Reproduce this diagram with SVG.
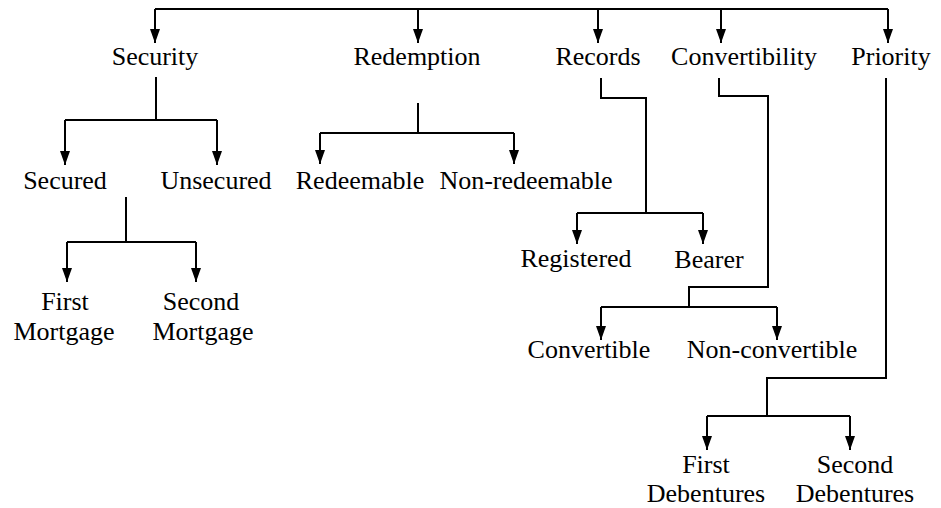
<svg xmlns="http://www.w3.org/2000/svg" width="941" height="508" viewBox="0 0 941 508">
<style>
text{font-family:'Liberation Serif','DejaVu Serif',serif;font-size:26px;fill:#000;text-anchor:middle}
.c{fill:none;stroke:#000;stroke-width:2}
.a{marker-end:url(#ah)}
</style>
<defs>
<marker id="ah" markerUnits="userSpaceOnUse" markerWidth="14" markerHeight="12" viewBox="0 0 14 12" refX="14" refY="6" orient="auto">
<path d="M0,1 L14,6 L0,11 Z" fill="#000"/>
</marker>
</defs>
<rect width="941" height="508" fill="#fff"/>
<g id="connectors">
<path class="c" d="M155,9 H888"/>
<path class="c a" d="M155,9 V43"/>
<path class="c a" d="M418,9 V43"/>
<path class="c a" d="M598,9 V43"/>
<path class="c a" d="M721,9 V43"/>
<path class="c a" d="M888,9 V43"/>
<path class="c" d="M156,77 V120 M65,120 H217"/>
<path class="c a" d="M65,120 V165"/>
<path class="c a" d="M217,120 V165"/>
<path class="c" d="M126,197 V242 M67,242 H196"/>
<path class="c a" d="M67,242 V282"/>
<path class="c a" d="M196,242 V282"/>
<path class="c" d="M418,103 V133 M320,133 H514"/>
<path class="c a" d="M320,133 V164"/>
<path class="c a" d="M514,133 V164"/>
<path class="c" d="M601,78 V98 H646 V213 M577,213 H703"/>
<path class="c a" d="M577,213 V244"/>
<path class="c a" d="M703,213 V244"/>
<path class="c" d="M719,78 V96 H768 V287 H689 V307 M601,307 H777"/>
<path class="c a" d="M601,307 V340"/>
<path class="c a" d="M777,307 V340"/>
<path class="c" d="M886,78 V378 H767 V416 M707,416 H850"/>
<path class="c a" d="M707,416 V450"/>
<path class="c a" d="M850,416 V450"/>
</g>
<g id="security"><text x="155" y="65">Security</text></g>
<g id="redemption"><text x="417" y="65">Redemption</text></g>
<g id="records"><text x="598" y="65">Records</text></g>
<g id="convertibility"><text x="744" y="65">Convertibility</text></g>
<g id="priority"><text x="891" y="65">Priority</text></g>
<g id="secured"><text x="65" y="189">Secured</text></g>
<g id="unsecured"><text x="216" y="189">Unsecured</text></g>
<g id="redeemable"><text x="360" y="189">Redeemable</text></g>
<g id="nonredeemable"><text x="526" y="189">Non-redeemable</text></g>
<g id="firstmortgage"><text x="65" y="310">First</text><text x="64" y="340">Mortgage</text></g>
<g id="secondmortgage"><text x="201" y="310">Second</text><text x="203" y="340">Mortgage</text></g>
<g id="registered"><text x="576" y="267">Registered</text></g>
<g id="bearer"><text x="709" y="268">Bearer</text></g>
<g id="convertible"><text x="589" y="358">Convertible</text></g>
<g id="nonconvertible"><text x="772" y="358">Non-convertible</text></g>
<g id="firstdebentures"><text x="706" y="473">First</text><text x="706" y="502">Debentures</text></g>
<g id="seconddebentures"><text x="855" y="473">Second</text><text x="855" y="502">Debentures</text></g>
</svg>
